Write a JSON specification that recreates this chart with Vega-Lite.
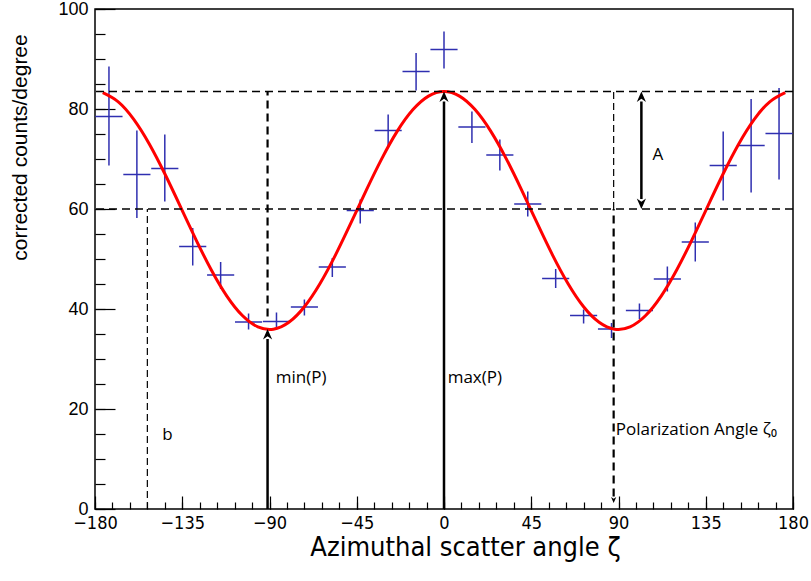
{
  "$schema": "https://vega.github.io/schema/vega-lite/v6.json",
  "width": 698,
  "height": 500,
  "autosize": {"type": "none"},
  "padding": {"left": 95, "top": 9, "right": 18, "bottom": 72},
  "background": "white",
  "config": {
    "view": {"stroke": "#000", "strokeWidth": 1.5},
    "axis": {"grid": false, "domain": false, "tickColor": "#000", "tickWidth": 1.2, "labelColor": "#000", "titleColor": "#000", "titleFontWeight": "normal", "labelFlush": false}
  },
  "datasets": {
    "pts": [
      {"zeta": -172.8, "xlo": -179.8, "xhi": -165.8, "v": 78.5, "lo": 68.7, "hi": 88.5},
      {"zeta": -158.4, "xlo": -165.4, "xhi": -151.4, "v": 66.9, "lo": 58.2, "hi": 75.7},
      {"zeta": -144.0, "xlo": -151.0, "xhi": -137.0, "v": 68.1, "lo": 61.5, "hi": 74.9},
      {"zeta": -129.6, "xlo": -136.6, "xhi": -122.6, "v": 52.5, "lo": 48.7, "hi": 56.2},
      {"zeta": -115.2, "xlo": -122.2, "xhi": -108.2, "v": 46.8, "lo": 44.0, "hi": 49.4},
      {"zeta": -100.8, "xlo": -107.8, "xhi": -93.8, "v": 37.4, "lo": 35.9, "hi": 39.1},
      {"zeta": -86.4, "xlo": -93.4, "xhi": -79.4, "v": 37.5, "lo": 36.3, "hi": 39.3},
      {"zeta": -72.0, "xlo": -79.0, "xhi": -65.0, "v": 40.4, "lo": 38.7, "hi": 41.9},
      {"zeta": -57.6, "xlo": -64.6, "xhi": -50.6, "v": 48.4, "lo": 46.4, "hi": 50.2},
      {"zeta": -43.2, "xlo": -50.2, "xhi": -36.2, "v": 59.7, "lo": 57.1, "hi": 61.9},
      {"zeta": -28.8, "xlo": -35.8, "xhi": -21.8, "v": 75.7, "lo": 72.4, "hi": 78.9},
      {"zeta": -14.4, "xlo": -21.4, "xhi": -7.4, "v": 87.5, "lo": 83.7, "hi": 91.2},
      {"zeta": 0.0, "xlo": -7.0, "xhi": 7.0, "v": 91.9, "lo": 88.1, "hi": 95.5},
      {"zeta": 14.4, "xlo": 7.4, "xhi": 21.4, "v": 76.4, "lo": 73.2, "hi": 79.5},
      {"zeta": 28.8, "xlo": 21.8, "xhi": 35.8, "v": 70.8, "lo": 67.7, "hi": 73.9},
      {"zeta": 43.2, "xlo": 36.2, "xhi": 50.2, "v": 61.0, "lo": 58.5, "hi": 63.5},
      {"zeta": 57.6, "xlo": 50.6, "xhi": 64.6, "v": 46.1, "lo": 44.2, "hi": 48.0},
      {"zeta": 72.0, "xlo": 65.0, "xhi": 79.0, "v": 38.7, "lo": 37.1, "hi": 39.9},
      {"zeta": 86.4, "xlo": 79.4, "xhi": 93.4, "v": 36.0, "lo": 34.2, "hi": 37.2},
      {"zeta": 100.8, "xlo": 93.8, "xhi": 107.8, "v": 39.7, "lo": 38.0, "hi": 41.1},
      {"zeta": 115.2, "xlo": 108.2, "xhi": 122.2, "v": 46.0, "lo": 43.5, "hi": 48.5},
      {"zeta": 129.6, "xlo": 122.6, "xhi": 136.6, "v": 53.4, "lo": 49.5, "hi": 57.3},
      {"zeta": 144.0, "xlo": 137.0, "xhi": 151.0, "v": 68.7, "lo": 61.7, "hi": 75.5},
      {"zeta": 158.4, "xlo": 151.4, "xhi": 165.4, "v": 72.7, "lo": 63.3, "hi": 82.0},
      {"zeta": 172.8, "xlo": 165.8, "xhi": 179.8, "v": 75.1, "lo": 65.9, "hi": 84.2}
    ],
    "fit": [
      {"zeta": -176, "f": 83.27}, {"zeta": -168, "f": 81.44}, {"zeta": -160, "f": 77.93}, {"zeta": -152, "f": 73.01},
      {"zeta": -144, "f": 67.05}, {"zeta": -136, "f": 60.53}, {"zeta": -128, "f": 53.94}, {"zeta": -120, "f": 47.80},
      {"zeta": -112, "f": 42.58}, {"zeta": -104, "f": 38.69}, {"zeta": -96, "f": 36.42}, {"zeta": -88, "f": 35.96},
      {"zeta": -80, "f": 37.34}, {"zeta": -72, "f": 40.45}, {"zeta": -64, "f": 45.05}, {"zeta": -56, "f": 50.78},
      {"zeta": -48, "f": 57.21}, {"zeta": -40, "f": 63.83}, {"zeta": -32, "f": 70.13}, {"zeta": -24, "f": 75.62},
      {"zeta": -16, "f": 79.88}, {"zeta": -8, "f": 82.58}, {"zeta": 0, "f": 83.50}, {"zeta": 8, "f": 82.58},
      {"zeta": 16, "f": 79.88}, {"zeta": 24, "f": 75.62}, {"zeta": 32, "f": 70.13}, {"zeta": 40, "f": 63.83},
      {"zeta": 48, "f": 57.21}, {"zeta": 56, "f": 50.78}, {"zeta": 64, "f": 45.05}, {"zeta": 72, "f": 40.45},
      {"zeta": 80, "f": 37.34}, {"zeta": 88, "f": 35.96}, {"zeta": 96, "f": 36.42}, {"zeta": 104, "f": 38.69},
      {"zeta": 112, "f": 42.58}, {"zeta": 120, "f": 47.80}, {"zeta": 128, "f": 53.94}, {"zeta": 136, "f": 60.53},
      {"zeta": 144, "f": 67.05}, {"zeta": 152, "f": 73.01}, {"zeta": 160, "f": 77.93}, {"zeta": 168, "f": 81.44},
      {"zeta": 176, "f": 83.27}
    ],
    "vrules": [
      {"x": -91, "y": 38.5, "y2": 83.5, "kind": "dashthick"},
      {"x": 87.5, "y": 60, "y2": 83.5, "kind": "dashthin"},
      {"x": 87.5, "y": 2.5, "y2": 60, "kind": "dashthick"},
      {"x": -153, "y": 0, "y2": 60, "kind": "dashthin"},
      {"x": -91, "y": 0, "y2": 34, "kind": "solid"},
      {"x": 0, "y": 0, "y2": 81.5, "kind": "solid"},
      {"x": 101.8, "y": 62, "y2": 81.5, "kind": "solid"}
    ],
    "heads": [
      {"x": -91, "y": 36, "dir": "up"},
      {"x": 0, "y": 83.5, "dir": "up"},
      {"x": 101.8, "y": 83.5, "dir": "up"},
      {"x": 101.8, "y": 60, "dir": "down"}
    ],
    "labels": [
      {"x": -86.8, "y": 26.3, "t": "min(P)"},
      {"x": 1.9, "y": 26.3, "t": "max(P)"},
      {"x": 88.6, "y": 15.9, "t": "Polarization Angle ζ₀"},
      {"x": 107.5, "y": 70.8, "t": "A"},
      {"x": -145.3, "y": 14.9, "t": "b"}
    ]
  },
  "resolve": {"axis": {"x": "independent", "y": "independent"}},
  "layer": [
    {
      "data": {"name": "pts"},
      "mark": {"type": "rule", "color": "#2f2fb0", "strokeWidth": 1.5},
      "encoding": {
        "x": {"field": "xlo", "type": "quantitative", "scale": {"domain": [-180, 180], "nice": false, "zero": false},
          "axis": {"orient": "bottom", "values": [-180,-171,-162,-153,-144,-135,-126,-117,-108,-99,-90,-81,-72,-63,-54,-45,-36,-27,-18,-9,0,9,18,27,36,45,54,63,72,81,90,99,108,117,126,135,144,153,162,171,180],
            "offset": -7, "tickSize": 7, "labels": false, "title": null}},
        "x2": {"field": "xhi"},
        "y": {"field": "v", "type": "quantitative", "scale": {"domain": [0, 100], "nice": false},
          "axis": {"orient": "left", "values": [0,5,10,15,20,25,30,35,40,45,50,55,60,65,70,75,80,85,90,95,100],
            "offset": -10, "tickSize": 10, "labels": false, "title": null}}
      }
    },
    {
      "data": {"name": "pts"},
      "mark": {"type": "rule", "color": "#2f2fb0", "strokeWidth": 1.5},
      "encoding": {
        "x": {"field": "zeta", "type": "quantitative",
          "axis": {"orient": "bottom", "values": [-180,-135,-90,-45,0,45,90,135,180], "offset": -13, "tickSize": 13,
            "labels": false, "title": null}},
        "y": {"field": "lo", "type": "quantitative",
          "axis": {"orient": "left", "values": [0,20,40,60,80,100], "offset": -20, "tickSize": 20,
            "labels": false, "title": null}},
        "y2": {"field": "hi"}
      }
    },
    {
      "data": {"name": "fit"},
      "mark": {"type": "line", "color": "#ff0000", "strokeWidth": 3, "interpolate": "natural"},
      "encoding": {
        "x": {"field": "zeta", "type": "quantitative",
          "axis": {"orient": "bottom", "values": [-180,-135,-90,-45,0,45,90,135,180], "ticks": false,
            "labelFont": "DejaVu Sans Condensed", "labelFontSize": 18, "labelPadding": 5,
            "title": "Azimuthal scatter angle  ζ", "titleFont": "DejaVu Sans Condensed", "titleFontSize": 27,
            "titleX": 370, "titleY": 38, "titleAlign": "center", "titleBaseline": "middle"}},
        "y": {"field": "f", "type": "quantitative",
          "axis": {"orient": "left", "values": [0,20,40,60,80,100], "ticks": false,
            "labelFont": "Liberation Sans", "labelFontSize": 18, "labelPadding": 7,
            "title": "corrected counts/degree", "titleFont": "Liberation Sans", "titleFontSize": 21,
            "titleX": -75, "titleY": 138, "titleAlign": "center", "titleBaseline": "middle"}}
      }
    },
    {
      "data": {"values": [{"y": 83.5}, {"y": 60}]},
      "mark": {"type": "rule", "color": "#000", "strokeWidth": 1.5, "strokeDash": [8, 5]},
      "encoding": {
        "y": {"field": "y", "type": "quantitative", "axis": null}
      }
    },
    {
      "data": {"name": "vrules"},
      "transform": [{"filter": "datum.kind === 'dashthick'"}],
      "mark": {"type": "rule", "color": "#000", "strokeWidth": 2.2, "strokeDash": [8, 5]},
      "encoding": {
        "x": {"field": "x", "type": "quantitative", "axis": null},
        "y": {"field": "y", "type": "quantitative", "axis": null},
        "y2": {"field": "y2"}
      }
    },
    {
      "data": {"name": "vrules"},
      "transform": [{"filter": "datum.kind === 'dashthin'"}],
      "mark": {"type": "rule", "color": "#000", "strokeWidth": 1.2, "strokeDash": [7, 4]},
      "encoding": {
        "x": {"field": "x", "type": "quantitative", "axis": null},
        "y": {"field": "y", "type": "quantitative", "axis": null},
        "y2": {"field": "y2"}
      }
    },
    {
      "data": {"name": "vrules"},
      "transform": [{"filter": "datum.kind === 'solid'"}],
      "mark": {"type": "rule", "color": "#000", "strokeWidth": 2.5},
      "encoding": {
        "x": {"field": "x", "type": "quantitative", "axis": null},
        "y": {"field": "y", "type": "quantitative", "axis": null},
        "y2": {"field": "y2"}
      }
    },
    {
      "data": {"name": "heads"},
      "transform": [{"filter": "datum.dir === 'up'"}],
      "mark": {"type": "point", "filled": true, "color": "#000", "opacity": 1, "size": 150,
        "shape": "M0,0 L0.75,1.7 L0,1.2 L-0.75,1.7 Z"},
      "encoding": {
        "x": {"field": "x", "type": "quantitative", "axis": null},
        "y": {"field": "y", "type": "quantitative", "axis": null}
      }
    },
    {
      "data": {"name": "heads"},
      "transform": [{"filter": "datum.dir === 'down'"}],
      "mark": {"type": "point", "filled": true, "color": "#000", "opacity": 1, "size": 150,
        "shape": "M0,0 L0.75,-1.7 L0,-1.2 L-0.75,-1.7 Z"},
      "encoding": {
        "x": {"field": "x", "type": "quantitative", "axis": null},
        "y": {"field": "y", "type": "quantitative", "axis": null}
      }
    },
    {
      "data": {"values": [{"x": 87.5, "y": 1.2}]},
      "mark": {"type": "point", "filled": true, "color": "#000", "opacity": 1, "size": 50,
        "shape": "M0,0 L0.75,-1.7 L0,-1.2 L-0.75,-1.7 Z"},
      "encoding": {
        "x": {"field": "x", "type": "quantitative", "axis": null},
        "y": {"field": "y", "type": "quantitative", "axis": null}
      }
    },
    {
      "data": {"name": "labels"},
      "mark": {"type": "text", "font": "Open Sans", "fontSize": 17, "align": "left", "baseline": "middle", "color": "#000"},
      "encoding": {
        "x": {"field": "x", "type": "quantitative", "axis": null},
        "y": {"field": "y", "type": "quantitative", "axis": null},
        "text": {"field": "t"}
      }
    }
  ]
}
